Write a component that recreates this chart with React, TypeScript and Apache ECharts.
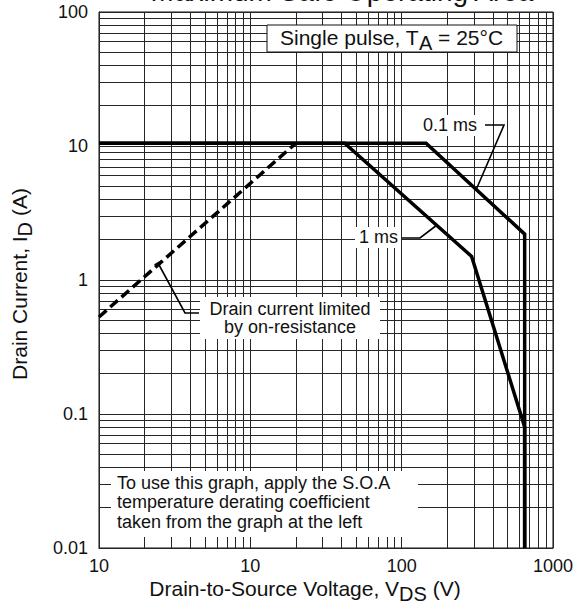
import React, { useEffect, useRef } from 'react';
import * as echarts from 'echarts';

// Axis ticks and labels
const xTicks = [1, 10, 100, 1000];
const xTickLabels = ['10', '10', '100', '1000'];
const yTicks = [0.01, 0.1, 1, 10, 100];
const yTickLabels = ['0.01', '0.1', '1', '10', '100'];
const mantissas = [1, 2, 3, 4, 5, 6, 7, 8, 9];
const xDecades = [1, 10, 100];
const yDecades = [0.01, 0.1, 1, 10];

// Curves (V, A)
const rdsLimitV = [1, 20];
const rdsLimitI = [0.53, 10.5];
const pulse01msV = [1, 145, 650, 650];
const pulse01msI = [10.5, 10.5, 2.2, 0.01];
const pulse1msV = [1, 42, 290, 650, 650];
const pulse1msI = [10.5, 10.5, 1.5, 0.08, 0.01];

const FONT = '"Liberation Sans", Arial, Helvetica, sans-serif';

const zip = (xs: number[], ys: number[]) => xs.map((x, i) => [x, ys[i]]);
const gridVals = (decades: number[], last: number) =>
  decades.flatMap((d) => mantissas.map((m) => +(m * d).toPrecision(3))).concat([last]);

const labelFor = (v: number, ticks: number[], labels: string[]) => {
  const lv = Math.log10(v);
  const idx = ticks.findIndex((t) => Math.abs(Math.log10(t) - lv) < 1e-6);
  return idx >= 0 ? labels[idx] : '';
};

export default function App() {
  const ref = useRef<HTMLDivElement>(null);
  useEffect(() => {
    if (!ref.current) return;
    const chart = echarts.init(ref.current, null, { renderer: 'svg' });
    const xGrid = gridVals(xDecades, 1000);
    const yGrid = gridVals(yDecades, 100);
    const lineCol = '#000';
    const txt = (extra: any) => ({
      type: 'text',
      z: 100,
      ...extra,
      style: { fontFamily: FONT, fontSize: 18, fill: '#111', ...extra.style },
    });
    const rich = {
      a: { fontFamily: FONT, fontSize: 21, fill: '#111', color: '#111' },
      s: { fontFamily: FONT, fontSize: 20, fill: '#111', color: '#111', padding: [11, 0, 0, 0] },
    };
    chart.setOption({
      animation: false,
      backgroundColor: '#fff',
      grid: { left: 99, right: 23, top: 12, bottom: 56, show: true, borderColor: '#111', borderWidth: 1 },
      xAxis: {
        type: 'log',
        logBase: 10,
        min: 1,
        max: 1000,
        splitLine: { show: false },
        axisTick: { show: false },
        axisLine: { show: true, lineStyle: { color: '#111', width: 1 } },
        axisLabel: {
          fontFamily: FONT,
          fontSize: 18,
          color: '#111',
          margin: 9,
          formatter: (v: number) => labelFor(v, xTicks, xTickLabels),
        },
      },
      yAxis: {
        type: 'log',
        logBase: 10,
        min: 0.01,
        max: 100,
        splitLine: { show: false },
        axisTick: { show: false },
        axisLine: { show: true, lineStyle: { color: '#111', width: 1 } },
        axisLabel: {
          fontFamily: FONT,
          fontSize: 18,
          color: '#111',
          margin: 11,
          formatter: (v: number) => labelFor(v, yTicks, yTickLabels),
        },
      },
      series: [
        {
          type: 'line',
          data: [],
          z: 1,
          markLine: {
            silent: true,
            z: 1,
            symbol: 'none',
            label: { show: false },
            lineStyle: { color: '#262626', width: 1, type: 'solid' },
            data: [
              ...xGrid.map((v) => ({ xAxis: v })),
              ...yGrid.map((v) => ({ yAxis: v })),
            ],
          },
        },
        {
          type: 'line',
          data: zip(pulse01msV, pulse01msI),
          symbol: 'none',
          z: 10,
          lineStyle: { color: lineCol, width: 3.5, join: 'miter' },
        },
        {
          type: 'line',
          data: zip(pulse1msV, pulse1msI),
          symbol: 'none',
          z: 10,
          lineStyle: { color: lineCol, width: 3.5, join: 'miter' },
        },
        {
          type: 'line',
          data: zip(rdsLimitV, rdsLimitI),
          symbol: 'none',
          z: 10,
          lineStyle: { color: lineCol, width: 3.5, type: [10, 5] },
        },
      ],
      graphic: [
        // cut-off title at the top
        txt({ x: 342, y: -9, style: { text: 'Maximum Safe Operating Area', fontSize: 28, align: 'center', verticalAlign: 'middle' } }),
        // top box
        { type: 'rect', z: 100, shape: { x: 267, y: 25, width: 250, height: 27 }, style: { fill: '#fff', stroke: '#111', lineWidth: 1 } },
        txt({ x: 280, y: 37, style: { text: '{a|Single pulse, T}{s|A}{a| = 25°C}', rich, align: 'left', verticalAlign: 'middle' } }),
        // 0.1 ms
        { type: 'rect', z: 100, shape: { x: 419, y: 115, width: 63, height: 21 }, style: { fill: '#fff' } },
        txt({ x: 423, y: 125, style: { text: '0.1 ms', align: 'left', verticalAlign: 'middle' } }),
        { type: 'polyline', z: 100, shape: { points: [[485, 125], [504, 125], [476, 190]] }, style: { fill: null, stroke: '#000', lineWidth: 1.6 } },
        // 1 ms
        { type: 'rect', z: 100, shape: { x: 355, y: 227, width: 46, height: 21 }, style: { fill: '#fff' } },
        txt({ x: 359, y: 237, style: { text: '1 ms', align: 'left', verticalAlign: 'middle' } }),
        { type: 'polyline', z: 100, shape: { points: [[402, 238], [420, 238], [437, 225]] }, style: { fill: null, stroke: '#000', lineWidth: 1.6 } },
        // drain current limited
        { type: 'rect', z: 100, shape: { x: 200, y: 297, width: 180, height: 42 }, style: { fill: '#fff' } },
        txt({ x: 290, y: 300, style: { text: 'Drain current limited\nby on-resistance', align: 'center', verticalAlign: 'top', lineHeight: 18 } }),
        { type: 'polyline', z: 100, shape: { points: [[199, 313], [185, 313], [158, 263]] }, style: { fill: null, stroke: '#000', lineWidth: 1.6 } },
        { type: 'line', z: 100, shape: { x1: 154.5, y1: 265, x2: 161.5, y2: 261 }, style: { stroke: '#000', lineWidth: 1.6 } },
        // bottom note
        { type: 'rect', z: 100, shape: { x: 111, y: 471, width: 307, height: 66 }, style: { fill: '#fff' } },
        txt({ x: 117, y: 473, style: { text: 'To use this graph, apply the S.O.A\ntemperature derating coefficient\ntaken from the graph at the left', align: 'left', verticalAlign: 'top', lineHeight: 19.5 } }),
        // axis titles
        txt({ x: 305, y: 588, style: { text: '{a|Drain-to-Source Voltage, V}{s|DS}{a| (V)}', rich, align: 'center', verticalAlign: 'middle' } }),
        txt({ x: 19, y: 284, rotation: Math.PI / 2, style: { text: '{a|Drain Current, I}{s|D}{a| (A)}', rich, align: 'center', verticalAlign: 'middle' } }),
      ],
    });
    return () => chart.dispose();
  }, []);
  return <div ref={ref} style={{ position: 'absolute', left: 0, top: 0, width: 576, height: 604 }} />;
}
